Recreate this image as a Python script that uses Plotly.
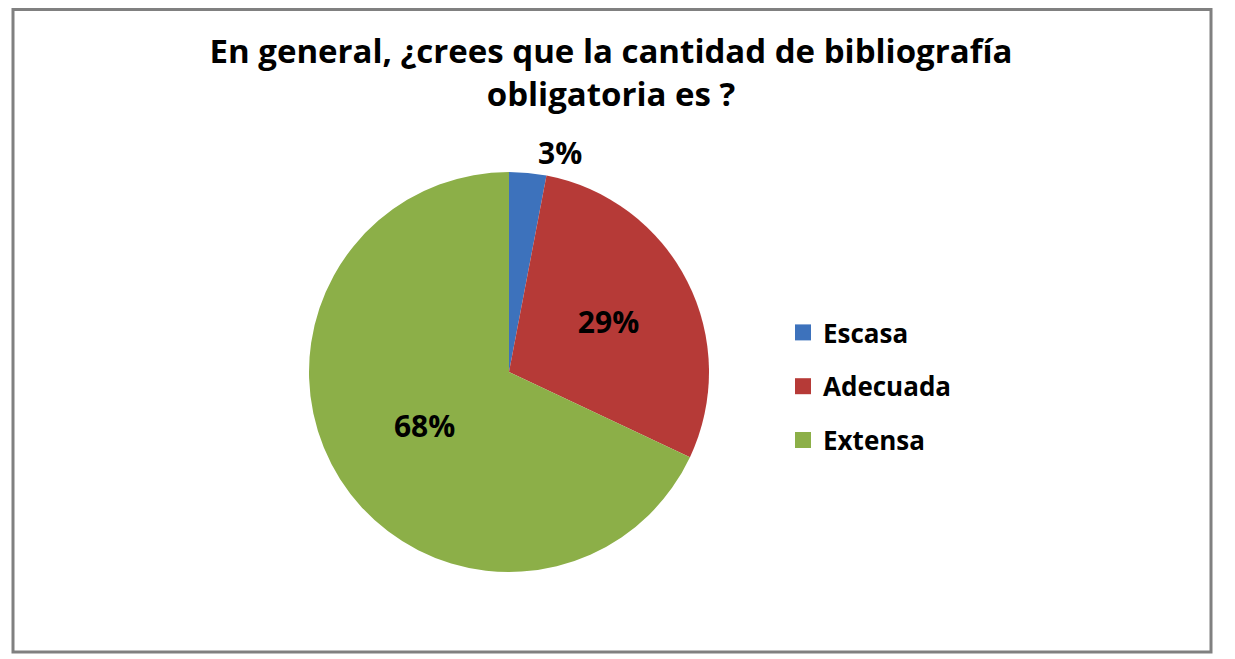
import plotly.graph_objects as go

categories = ["Escasa", "Adecuada", "Extensa"]
values = [3, 29, 68]
colors = ["#3D72BC", "#B63A37", "#8CAF48"]
title_text = "En general, ¿crees que la cantidad de bibliografía<br>obligatoria es ?"

# page has an 8px body margin: work in figure coordinates
W, H = 1227, 651
cx, cy, r = 501, 364, 200

fig = go.Figure()

fig.add_trace(
    go.Pie(
        labels=categories,
        values=values,
        sort=False,
        direction="clockwise",
        rotation=0,
        marker=dict(colors=colors, line=dict(width=0)),
        texttemplate="%{percent:.0%}",
        textposition=["outside", "inside", "inside"],
        insidetextorientation="horizontal",
        textfont=dict(family="Open Sans", size=30, color="#000000", weight="bold"),
        domain=dict(x=[(cx - r) / W, (cx + r) / W], y=[(H - cy - r) / H, (H - cy + r) / H]),
        hoverinfo="label+percent",
        showlegend=False,
    )
)

# legend entries (one per category, with larger square swatches)
for cat, col in zip(categories, colors):
    fig.add_trace(
        go.Scatter(
            x=[None],
            y=[None],
            mode="markers",
            name=cat,
            legendgroup=cat,
            marker=dict(symbol="square", size=16, color=col),
            showlegend=True,
        )
    )

fig.update_layout(
    width=W,
    height=H,
    margin=dict(l=0, r=0, t=0, b=0),
    paper_bgcolor="white",
    plot_bgcolor="white",
    xaxis=dict(visible=False),
    yaxis=dict(visible=False),
    title=dict(
        text=title_text,
        x=603 / W,
        xanchor="center",
        y=1 - 55 / H,
        yanchor="top",
        font=dict(family="Open Sans", size=33, color="#000000", weight="bold"),
    ),
    legend=dict(
        x=775 / W,
        y=1 - 301 / H,
        xanchor="left",
        yanchor="top",
        tracegroupgap=17,
        font=dict(family="Open Sans", size=26, color="#000000", weight="bold"),
        bgcolor="rgba(0,0,0,0)",
    ),
    shapes=[
        dict(
            type="rect",
            xref="paper",
            yref="paper",
            x0=5 / W,
            x1=1203 / W,
            y0=1 - 644 / H,
            y1=1 - 1.5 / H,
            line=dict(color="#808080", width=3),
        )
    ],
)

fig.write_html("out.html")
